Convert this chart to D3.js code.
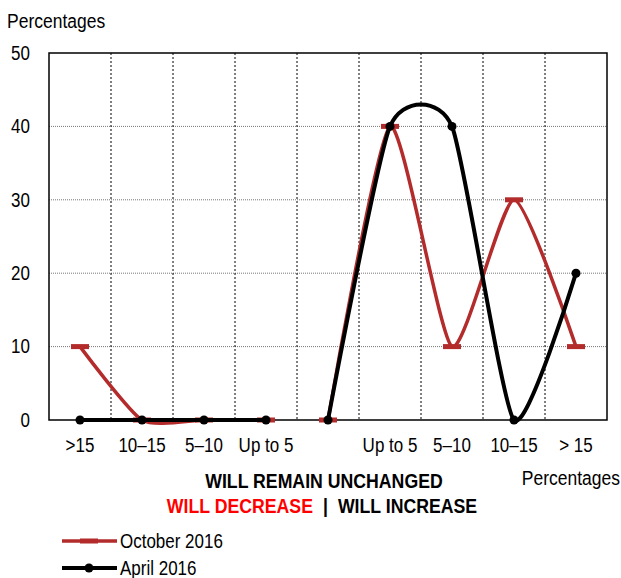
<!DOCTYPE html>
<html>
<head>
<meta charset="utf-8">
<script src="https://cdn.jsdelivr.net/npm/d3@7"></script>
<style>
  body { margin: 0; background: #fff; }
  text { font-family: Arial, "Liberation Sans", sans-serif;
         transform-box: fill-box; transform-origin: center; transform: scaleY(1.15); }
</style>
</head>
<body>
<svg id="chart"></svg>
<script>
// categories (left half: will decrease, middle: unchanged, right half: will increase)
const categories = [">15", "10–15", "5–10", "Up to 5", "", "Up to 5", "5–10", "10–15", "> 15"];
const yTicks = [0, 10, 20, 30, 40, 50];

// series values, split into the "decrease" part and the "unchanged/increase" part
const oct2016Left = [10, 0, 0, 0];
const oct2016Right = [0, 40, 10, 30, 10];
const apr2016Left = [0, 0, 0, 0];
const apr2016Right = [0, 40, 40, 0, 20];

const redCol = "#b32b2b";
const width = 621, height = 578;
const margin = { top: 53, right: 14, bottom: 158, left: 49 };

const svg = d3.select("#chart").attr("width", width).attr("height", height);

const xband = d3.scaleBand()
    .domain(d3.range(categories.length))
    .range([margin.left, width - margin.right])
    .padding(0);
const xpos = i => xband(i) + xband.bandwidth() / 2;

const yscale = d3.scaleLinear()
    .domain([0, 50])
    .range([height - margin.bottom, margin.top]);

const x0 = margin.left, x1 = width - margin.right;
const y0 = yscale(0), y1 = yscale(50);

// 横のグリッド線（点線）
svg.append("g").selectAll("line")
    .data(yTicks.filter(d => d > 0 && d < 50))
    .enter().append("line")
    .attr("x1", x0).attr("x2", x1)
    .attr("y1", d => yscale(d)).attr("y2", d => yscale(d))
    .attr("stroke", "#777")
    .attr("stroke-width", 1)
    .attr("stroke-dasharray", "1,1");

// 縦のグリッド線（破線）
svg.append("g").selectAll("line")
    .data(d3.range(1, categories.length))
    .enter().append("line")
    .attr("x1", d => xband(d)).attr("x2", d => xband(d))
    .attr("y1", y1).attr("y2", y0)
    .attr("stroke", "#000")
    .attr("stroke-width", 1)
    .attr("stroke-dasharray", "2,2");

// 枠
svg.append("rect")
    .attr("x", x0).attr("y", y1)
    .attr("width", x1 - x0).attr("height", y0 - y1)
    .attr("fill", "none")
    .attr("stroke", "#000")
    .attr("stroke-width", 1.5);

// y軸
const yaxis = d3.axisLeft(yscale).tickValues(yTicks).tickSize(0).tickPadding(19);
const yg = svg.append("g").attr("transform", `translate(${x0},0)`).call(yaxis);
yg.select(".domain").remove();
yg.selectAll("text").attr("font-size", "17px").attr("fill", "#000")
    .attr("font-family", "Arial, 'Liberation Sans', sans-serif");

// x軸ラベル
const xaxis = d3.axisBottom(xband).tickFormat(i => categories[i]).tickSize(0).tickPadding(19);
const xg = svg.append("g").attr("transform", `translate(0,${y0})`).call(xaxis);
xg.select(".domain").remove();
xg.selectAll("text").attr("font-size", "17px").attr("fill", "#000")
    .attr("font-family", "Arial, 'Liberation Sans', sans-serif");

// 線
const line = d3.line()
    .x(d => xpos(d.i))
    .y(d => yscale(d.v))
    .curve(d3.curveCardinal.tension(0.4));

function toPts(vals, offset) {
    return vals.map((v, k) => ({ i: k + offset, v: v }));
}

const octSegs = [toPts(oct2016Left, 0), toPts(oct2016Right, 4)];
const aprSegs = [toPts(apr2016Left, 0), toPts(apr2016Right, 4)];

octSegs.forEach(seg => {
    svg.append("path").datum(seg)
        .attr("d", line)
        .attr("fill", "none")
        .attr("stroke", redCol)
        .attr("stroke-width", 3.5);
    svg.append("g").selectAll("rect")
        .data(seg).enter().append("rect")
        .attr("x", d => xpos(d.i) - 9)
        .attr("y", d => yscale(d.v) - 2.5)
        .attr("width", 18).attr("height", 5)
        .attr("fill", redCol);
});

aprSegs.forEach(seg => {
    svg.append("path").datum(seg)
        .attr("d", line)
        .attr("fill", "none")
        .attr("stroke", "#000")
        .attr("stroke-width", 4);
    svg.append("g").selectAll("circle")
        .data(seg).enter().append("circle")
        .attr("cx", d => xpos(d.i))
        .attr("cy", d => yscale(d.v))
        .attr("r", 4.5)
        .attr("fill", "#000");
});

// タイトル・ラベル
svg.append("text")
    .attr("x", 7).attr("y", 27)
    .attr("font-size", "17.5px")
    .text("Percentages");

svg.append("text")
    .attr("x", 620).attr("y", 484)
    .attr("text-anchor", "end")
    .attr("font-size", "17.5px")
    .text("Percentages");

svg.append("text")
    .attr("x", 324).attr("y", 487)
    .attr("text-anchor", "middle")
    .attr("font-size", "17.7px")
    .attr("font-weight", "bold")
    .text("WILL REMAIN UNCHANGED");

const t2 = svg.append("text")
    .attr("x", 322).attr("y", 512)
    .attr("text-anchor", "middle")
    .attr("font-size", "17.7px")
    .attr("font-weight", "bold");
t2.append("tspan").attr("fill", "#ff0000").text("WILL DECREASE");
t2.append("tspan").attr("fill", "#000").attr("dx", 10).text("|");
t2.append("tspan").attr("fill", "#000").attr("dx", 10).text("WILL INCREASE");

// 凡例
const legend = svg.append("g");
legend.append("line")
    .attr("x1", 62).attr("x2", 117).attr("y1", 541).attr("y2", 541)
    .attr("stroke", redCol).attr("stroke-width", 3.5);
legend.append("rect")
    .attr("x", 80).attr("y", 538.5).attr("width", 18).attr("height", 5)
    .attr("fill", redCol);
legend.append("text")
    .attr("x", 120).attr("y", 547)
    .attr("font-size", "17px")
    .text("October 2016");

legend.append("line")
    .attr("x1", 62).attr("x2", 117).attr("y1", 568).attr("y2", 568)
    .attr("stroke", "#000").attr("stroke-width", 4);
legend.append("circle")
    .attr("cx", 89).attr("cy", 568).attr("r", 4.5)
    .attr("fill", "#000");
legend.append("text")
    .attr("x", 120).attr("y", 574)
    .attr("font-size", "17px")
    .text("April 2016");
</script>
</body>
</html>
